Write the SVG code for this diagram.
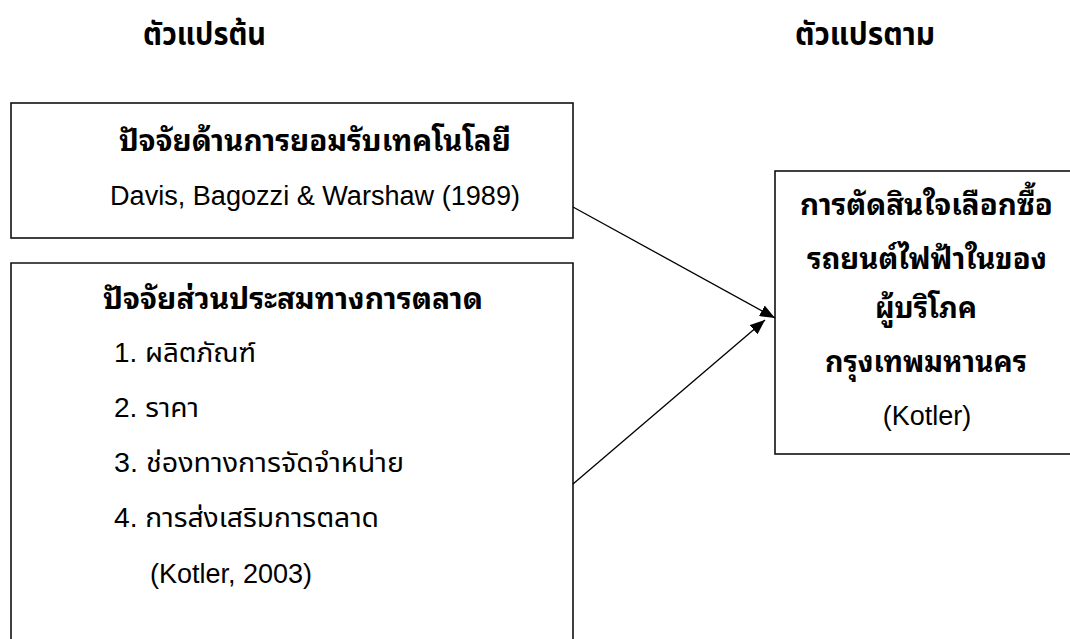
<svg xmlns="http://www.w3.org/2000/svg" width="1070" height="639" viewBox="0 0 1070 639">
<style>
.box{fill:#fff;stroke:#111;stroke-width:1.6}
.hd{font-family:"Noto Sans Thai","Noto Sans Thai Looped","Noto Sans","Liberation Sans",sans-serif;font-weight:bold;font-size:31px;fill:#000}
.tb{font-family:"Noto Sans Thai Looped","Noto Sans Thai","Noto Sans","Liberation Sans",sans-serif;font-weight:bold;font-size:29px;fill:#000}
.tr{font-family:"Liberation Sans","Noto Sans Thai","Noto Sans",sans-serif;font-size:27px;fill:#000}
.ln{stroke:#000;stroke-width:1.3;fill:none}
</style>
<defs>
<marker id="ah" viewBox="0 0 15 12" refX="15" refY="6" markerWidth="15" markerHeight="12" markerUnits="userSpaceOnUse" orient="auto">
<path d="M0,0 L15,6 L0,12 z" fill="#000"/>
</marker>
</defs>
<rect width="1070" height="639" fill="#fff"/>
<g id="headers">
<text class="hd" x="143" y="45" textLength="123" lengthAdjust="spacingAndGlyphs">ตัวแปรต้น</text>
<text class="hd" x="795" y="45" textLength="140" lengthAdjust="spacingAndGlyphs">ตัวแปรตาม</text>
</g>
<g id="node-tech">
<rect class="box" x="11" y="103" width="562" height="135"/>
<text class="tb" x="119" y="151" textLength="392" lengthAdjust="spacingAndGlyphs">ปัจจัยด้านการยอมรับเทคโนโลยี</text>
<text class="tr" x="110" y="205" textLength="410" lengthAdjust="spacingAndGlyphs">Davis, Bagozzi &amp; Warshaw (1989)</text>
</g>
<g id="node-mix">
<path class="box" d="M11,645 L11,263 L573,263 L573,645"/>
<text class="tb" x="103" y="309" textLength="380" lengthAdjust="spacingAndGlyphs">ปัจจัยส่วนประสมทางการตลาด</text>
<text class="tr" x="114" y="362" textLength="142" lengthAdjust="spacingAndGlyphs">1. ผลิตภัณฑ์</text>
<text class="tr" x="114" y="417" textLength="85" lengthAdjust="spacingAndGlyphs">2. ราคา</text>
<text class="tr" x="114" y="472" textLength="290" lengthAdjust="spacingAndGlyphs">3. ช่องทางการจัดจำหน่าย</text>
<text class="tr" x="114" y="527" textLength="265" lengthAdjust="spacingAndGlyphs">4. การส่งเสริมการตลาด</text>
<text class="tr" x="150" y="583">(Kotler, 2003)</text>
</g>
<g id="node-decision">
<rect class="box" x="775" y="171" width="310" height="283"/>
<text class="tb" x="800" y="215" textLength="253" lengthAdjust="spacingAndGlyphs">การตัดสินใจเลือกซื้อ</text>
<text class="tb" x="807" y="269" textLength="240" lengthAdjust="spacingAndGlyphs">รถยนต์ไฟฟ้าในของ</text>
<text class="tb" x="875" y="318" textLength="102" lengthAdjust="spacingAndGlyphs">ผู้บริโภค</text>
<text class="tb" x="825" y="372" textLength="202" lengthAdjust="spacingAndGlyphs">กรุงเทพมหานคร</text>
<text class="tr" x="927" y="425" text-anchor="middle">(Kotler)</text>
</g>
<g id="connectors">
<line class="ln" x1="573" y1="207" x2="775" y2="318" marker-end="url(#ah)"/>
<line class="ln" x1="573" y1="484" x2="765" y2="320" marker-end="url(#ah)"/>
</g>
</svg>
